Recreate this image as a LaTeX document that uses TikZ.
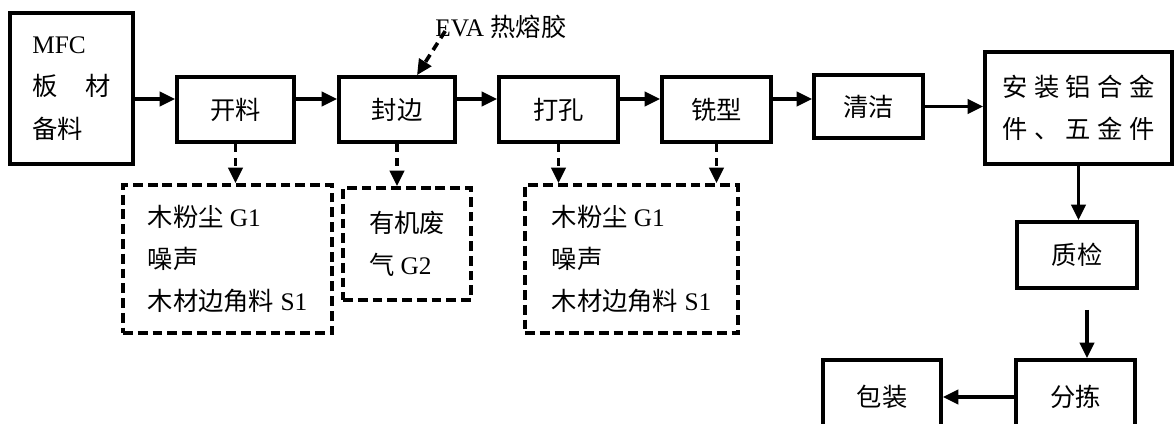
\documentclass[tikz,border=0pt]{standalone}
\usepackage{fontspec}
\setmainfont{Liberation Serif}
\newfontfamily\cjk{Noto Sans CJK SC}
\newfontfamily\cjkwide[LetterSpace=25]{Noto Sans CJK SC}
\usetikzlibrary{arrows.meta}
\begin{document}
\begin{tikzpicture}[x=0.025cm, y=-0.025cm, font=\fontsize{18}{30}\selectfont,
  box/.style={draw, line width=2.6pt, inner sep=0pt, align=center},
  dbox/.style={box, dash pattern=on 7pt off 3.5pt, align=left},
  arr/.style={line width=2.6pt, -{Triangle[length=11pt,width=10pt]}},
  darr/.style={arr, dash pattern=on 6pt off 4pt}]
\useasboundingbox (0,0) rectangle (1174,423);
\clip (0,0) rectangle (1174,423);
\node[box, line width=3pt, align=left, minimum width=3.075cm, minimum height=3.775cm] (mfc) at (71.5,88.5) {MFC\\{\cjk 板\hspace{1.1em}材}\\{\cjk 备料}};
\node[box, minimum width=2.925cm, minimum height=1.625cm] (kailiao) at (235.5,109.5) {\cjk 开料};
\node[box, minimum width=2.9cm, minimum height=1.625cm] (fengbian) at (397,109.5) {\cjk 封边};
\node[box, minimum width=2.975cm, minimum height=1.625cm] (dakong) at (558.5,109.5) {\cjk 打孔};
\node[box, minimum width=2.725cm, minimum height=1.625cm] (xixing) at (716.5,109.5) {\cjk 铣型};
\node[box, minimum width=2.725cm, minimum height=1.575cm] (qingjie) at (868.5,106.5) {\cjk 清洁};
\node[box, align=left, minimum width=4.675cm, minimum height=2.8cm] (anzhuang) at (1078.5,108) {{\cjkwide 安装铝合金}\\{\cjkwide 件、五金件}};
\node[box, minimum width=3cm, minimum height=1.65cm] (zhijian) at (1077,255) {\cjk 质检};
\node[box, minimum width=2.975cm, minimum height=1.85cm] (fenjian) at (1075.5,397) {\cjk 分拣};
\node[box, minimum width=2.95cm, minimum height=1.85cm] (baozhuang) at (882,397) {\cjk 包装};
\node[dbox, minimum width=5.225cm, minimum height=3.7cm] (d1) at (227.5,259) {{\cjk 木粉尘} G1\\{\cjk 噪声}\\{\cjk 木材边角料} S1};
\node[dbox, minimum width=3.2cm, minimum height=2.8cm] (d2) at (407,244) {{\cjk 有机废}\\{\cjk 气} G2};
\node[dbox, minimum width=5.325cm, minimum height=3.7cm] (d3) at (631.5,259) {{\cjk 木粉尘} G1\\{\cjk 噪声}\\{\cjk 木材边角料} S1};
\node[inner sep=0pt] (eva) at (501,27) {EVA {\cjk 热熔胶}};
\coordinate (row) at (0,99);
\draw[arr] (mfc.east |- row) -- (kailiao.west |- row);
\draw[arr] (kailiao.east |- row) -- (fengbian.west |- row);
\draw[arr] (fengbian.east |- row) -- (dakong.west |- row);
\draw[arr] (dakong.east |- row) -- (xixing.west |- row);
\draw[arr] (xixing.east |- row) -- (qingjie.west |- row);
\draw[arr] (qingjie.east) -- (qingjie.east -| anzhuang.west);
\draw[arr] (anzhuang.south) -- (anzhuang.south |- zhijian.north);
\coordinate (q) at ([xshift=0.25cm]zhijian.south);
\draw[arr, shorten <=0.5cm] (q) -- (q |- fenjian.north);
\draw[arr] (fenjian.west) -- (baozhuang.east);
\draw[darr] ([xshift=0.25cm, yshift=0.2cm]eva.south west) -- ([xshift=0.5cm]fengbian.north);
\draw[darr] (kailiao.south) -- (kailiao.south |- d1.north);
\draw[darr] (fengbian.south) -- (fengbian.south |- d2.north);
\draw[darr] (dakong.south) -- (dakong.south |- d3.north);
\draw[darr] (xixing.south) -- (xixing.south |- d3.north);
\end{tikzpicture}
\end{document}
